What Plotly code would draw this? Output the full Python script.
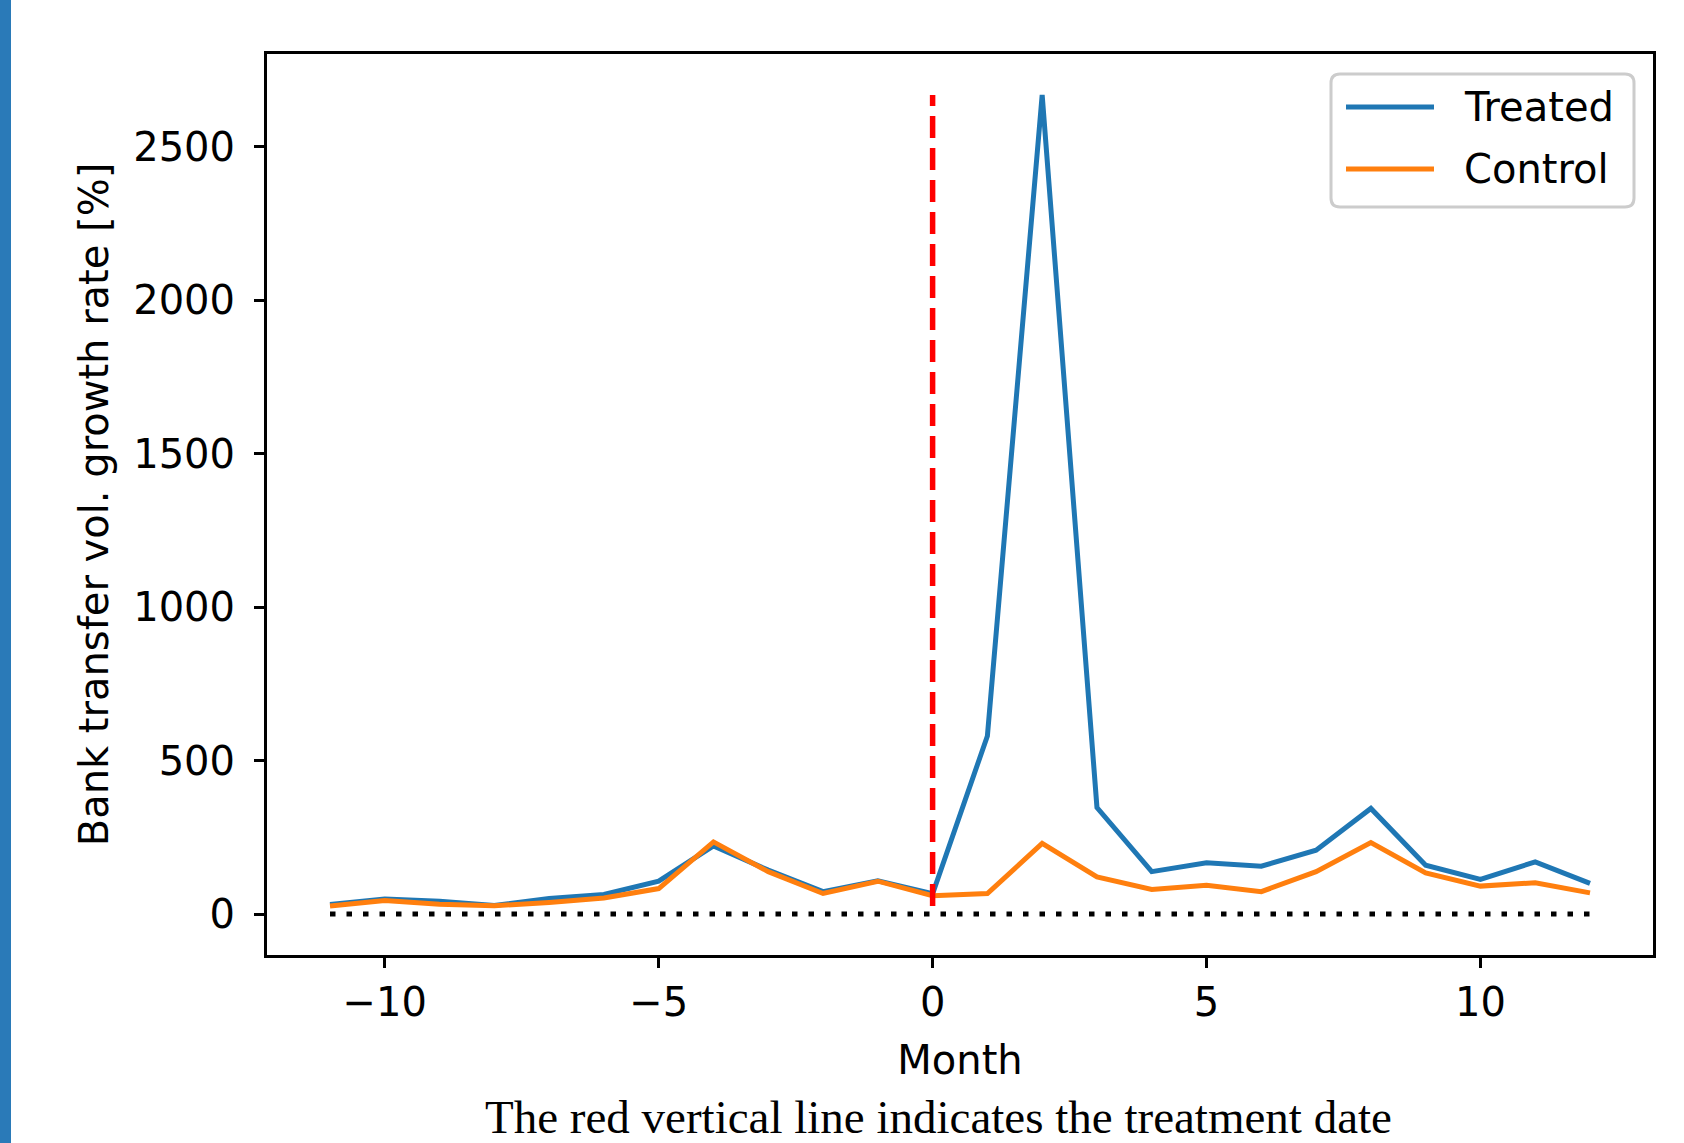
import plotly.graph_objects as go

months = list(range(-11, 13))
treated = [31, 49, 42, 28, 51, 64, 107, 222, 143, 73, 108, 66,
           580, 2668, 347, 138, 167, 156, 208, 344, 159, 113, 170, 100]
control = [26, 44, 32, 27, 38, 52, 83, 235, 138, 67, 107, 60,
           67, 230, 121, 80, 94, 73, 138, 233, 134, 91, 102, 69]
series_names = ["Treated", "Control"]
series_colors = ["#1f77b4", "#ff7f0e"]
treatment_month = 0
x_ticks = [-10, -5, 0, 5, 10]
y_ticks = [0, 500, 1000, 1500, 2000, 2500]
caption = "The red vertical line indicates the treatment date"

W, H = 1684, 1143
L, R, T, B = 267, 1653, 54, 955
pw, ph = R - L, B - T


def px(x):
    return (x - L) / pw


def py(y):
    return (B - y) / ph


FONT = "DejaVu Sans"
fig = go.Figure()

for name, vals, col in zip(series_names, [treated, control], series_colors):
    fig.add_trace(go.Scatter(x=months, y=vals, mode="lines", name=name,
                             line=dict(color=col, width=5), showlegend=False))

all_vals = treated + control
fig.add_trace(go.Scatter(x=[treatment_month, treatment_month],
                         y=[min(all_vals), max(all_vals)], mode="lines",
                         line=dict(color="#ff0000", width=5.5, dash="22px,10px"),
                         showlegend=False, hoverinfo="skip"))
fig.add_trace(go.Scatter(x=[months[0], months[-1]], y=[0, 0], mode="lines",
                         line=dict(color="black", width=5, dash="5.5px,11px"),
                         showlegend=False, hoverinfo="skip"))

span_x = months[-1] - months[0]
ymin, ymax = 0, max(all_vals)
span_y = ymax - ymin

fig.update_layout(
    width=W, height=H,
    margin=dict(l=L, r=W - R, t=T, b=H - B),
    paper_bgcolor="white", plot_bgcolor="white",
    font=dict(family=FONT, size=40, color="black"),
    xaxis=dict(range=[months[0] - 0.05 * span_x, months[-1] + 0.05 * span_x],
               tickvals=x_ticks, ticktext=[str(v).replace("-", "\u2212") for v in x_ticks],
               ticks="outside", ticklen=10, tickwidth=2.5, tickcolor="black",
               showline=True, linecolor="black", linewidth=3, mirror=True,
               showgrid=False, zeroline=False,
               title=dict(text="Month", standoff=22, font=dict(size=40))),
    yaxis=dict(range=[ymin - 0.05 * span_y, ymax + 0.05 * span_y],
               tickvals=y_ticks, ticks="outside", ticklen=10, tickwidth=2.5,
               tickcolor="black", showline=True, linecolor="black", linewidth=3,
               mirror=True, showgrid=False, zeroline=False, ticklabelstandoff=11,
               title=dict(text="Bank transfer vol. growth rate [%]", standoff=13,
                          font=dict(size=40))),
    showlegend=False,
)

shapes = []
annotations = []
# left blue page bar
shapes.append(dict(type="rect", xref="paper", yref="paper",
                   x0=px(0), x1=px(11), y0=py(H), y1=py(0),
                   fillcolor="#2a7ab8", line=dict(width=0), layer="above"))

# legend box (rounded)
lx0, lx1, ly0, ly1 = px(1331), px(1634), py(207), py(74)
rx, ry = 9 / pw, 9 / ph
path = (f"M {lx0+rx},{ly1} L {lx1-rx},{ly1} Q {lx1},{ly1} {lx1},{ly1-ry} "
        f"L {lx1},{ly0+ry} Q {lx1},{ly0} {lx1-rx},{ly0} L {lx0+rx},{ly0} "
        f"Q {lx0},{ly0} {lx0},{ly0+ry} L {lx0},{ly1-ry} Q {lx0},{ly1} {lx0+rx},{ly1} Z")
shapes.append(dict(type="path", xref="paper", yref="paper", path=path,
                   fillcolor="rgba(255,255,255,0.8)",
                   line=dict(color="#cccccc", width=3), layer="above"))
for i, (name, col) in enumerate(zip(series_names, series_colors)):
    yy = py(107 + i * 62)
    shapes.append(dict(type="line", xref="paper", yref="paper",
                       x0=px(1346), x1=px(1434), y0=yy, y1=yy,
                       line=dict(color=col, width=5), layer="above"))
    annotations.append(dict(xref="paper", yref="paper", x=px(1462), y=yy,
                            xanchor="left", yanchor="middle", text=name,
                            showarrow=False, font=dict(family=FONT, size=40, color="black")))

annotations.append(dict(xref="paper", yref="paper", x=px(938), y=py(1145),
                        xanchor="center", yanchor="bottom", text=caption,
                        showarrow=False,
                        font=dict(family="Liberation Serif", size=47, color="black")))

fig.update_layout(shapes=shapes, annotations=annotations)
fig.write_html("out.html", config={"displayModeBar": False},
               post_script="document.body.style.margin='0';")
